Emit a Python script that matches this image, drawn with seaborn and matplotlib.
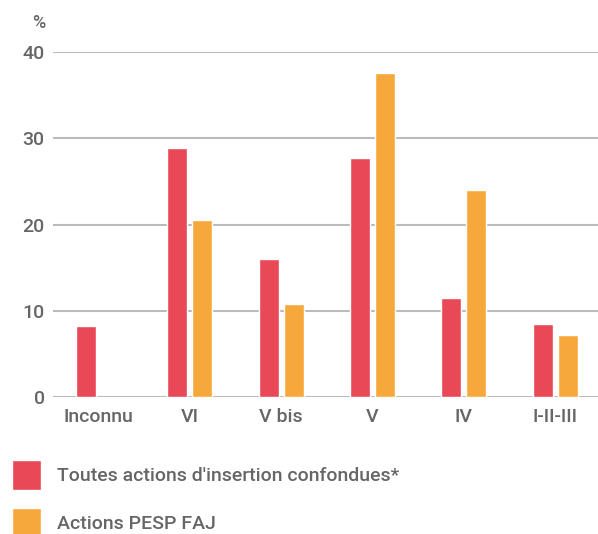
import numpy as np
import pandas as pd
import seaborn as sns
import matplotlib.pyplot as plt

categories = ["Inconnu", "VI", "V bis", "V", "IV", "I-II-III"]
toutes = [8.2, 28.9, 16.0, 27.7, 11.5, 8.5]
pesp_faj = [np.nan, 20.5, 10.8, 37.6, 24.0, 7.2]
series = ["Toutes actions d'insertion confondues*", "Actions PESP FAJ"]
colors = ["#E94856", "#F7A83B"]
yticks = [0, 10, 20, 30, 40]

df = pd.DataFrame({
    "niveau": categories * 2,
    "valeur": toutes + pesp_faj,
    "serie": [series[0]] * len(categories) + [series[1]] * len(categories),
})

sns.set_style("white")
plt.rcParams["font.family"] = ["Roboto", "DejaVu Sans"]
plt.rcParams["font.weight"] = "medium"

fig = plt.figure(figsize=(5.98, 5.34), dpi=100)
ax = fig.add_axes([53 / 598, 1 - 397 / 534, 1 - 53 / 598, (397 - 52) / 534])

sns.barplot(
    df, x="niveau", y="valeur", hue="serie", order=categories,
    palette=colors, width=0.548, gap=0.2, ax=ax, legend=True,
    saturation=1,
)

ax.set_ylim(0, 40)
ax.set_xlim(-0.5, 5.47)
ax.set_yticks(yticks)
ax.yaxis.grid(True, color="#bbbbbb", linewidth=1.5)
ax.set_axisbelow(True)
sns.despine(ax=ax, left=True, bottom=True)
ax.tick_params(axis="both", length=0, labelsize=14, labelcolor="#666666")
ax.tick_params(axis="y", pad=6)
ax.tick_params(axis="x", pad=8)
ax.set_xlabel("")
ax.set_ylabel("")

fig.text(45 / 598, 1 - 23 / 534, "%", ha="right", va="center",
         fontsize=13, color="#666666")

handles, labels = ax.get_legend_handles_labels()
ax.get_legend().remove()
fig.legend(
    handles, labels, loc="upper left",
    bbox_to_anchor=(12 / 598, 1 - 460 / 534),
    frameon=False, fontsize=14, labelcolor="#666666",
    handlelength=1.5, handleheight=2.0, handletextpad=0.8,
    labelspacing=0.9, borderpad=0, borderaxespad=0,
)

fig.savefig("out.png", dpi=100)
